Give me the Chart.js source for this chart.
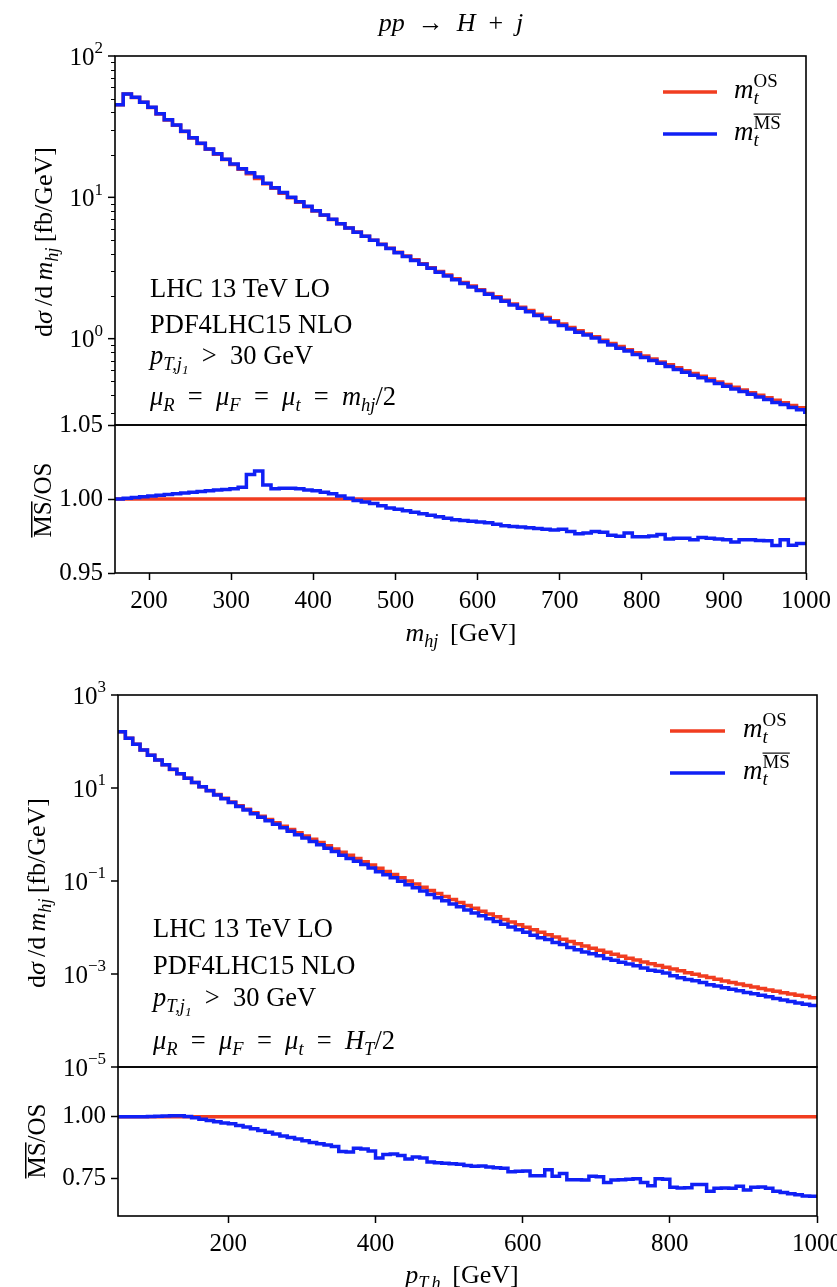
<!DOCTYPE html>
<html lang="en">
<head>
<meta charset="utf-8">
<title>pp → H + j</title>
<script src="https://cdn.jsdelivr.net/npm/chart.js@4.4.1/dist/chart.umd.min.js"></script>
<style>
  html, body { margin: 0; padding: 0; background: #fff; }
  #page { position: relative; width: 837px; height: 1287px; overflow: hidden; background: #fff; }
  #page canvas { position: absolute; left: 0; }
</style>
</head>
<body>
<div id="page">
  <canvas id="mhjMain" width="837" height="445" style="top:0px"></canvas>
  <canvas id="mhjRatio" width="837" height="248" style="top:405px"></canvas>
  <canvas id="ptMain" width="837" height="412" style="top:675px"></canvas>
  <canvas id="ptRatio" width="837" height="240" style="top:1047px"></canvas>
</div>
<script>
// ---- m_hj distribution: 10 GeV bins starting at the kinematic threshold ----
const mhjFirstEdge = 158.5;
const mhjBinWidth = 10;

// dsigma/dm_hj [fb/GeV], on-shell top mass
const mhjOS = [
  45.2, 53.8, 50.9, 47.0, 43.3, 38.9, 35.3, 32.4, 29.2, 26.3,
  24.0, 21.9, 20.2, 18.5, 17.1, 15.8, 14.7, 13.6, 12.5, 11.6,
  10.7, 9.95, 9.23, 8.59, 8.00, 7.46, 6.97, 6.50, 6.07, 5.68,
  5.31, 4.97, 4.66, 4.37, 4.09, 3.84, 3.61, 3.39, 3.18, 2.99,
  2.82, 2.65, 2.50, 2.36, 2.22, 2.09, 1.98, 1.87, 1.76, 1.67,
  1.58, 1.49, 1.41, 1.34, 1.27, 1.20, 1.14, 1.08, 1.03, 0.973,
  0.925, 0.879, 0.836, 0.794, 0.755, 0.719, 0.685, 0.653, 0.622, 0.594,
  0.568, 0.542, 0.518, 0.494, 0.473, 0.453, 0.434, 0.415, 0.398, 0.382,
  0.366, 0.352, 0.337, 0.324, 0.310
];

// dsigma/dm_hj [fb/GeV], MSbar top mass
const mhjMS = [
  45.2, 53.8, 51.0, 47.1, 43.4, 39.0, 35.4, 32.5, 29.3, 26.4,
  24.1, 22.0, 20.3, 18.6, 17.2, 15.9, 14.9, 13.9, 12.6, 11.7,
  10.8, 10.0, 9.29, 8.64, 8.04, 7.49, 6.99, 6.51, 6.07, 5.67,
  5.30, 4.96, 4.64, 4.34, 4.06, 3.81, 3.58, 3.36, 3.15, 2.95,
  2.78, 2.61, 2.46, 2.32, 2.19, 2.06, 1.95, 1.84, 1.73, 1.64,
  1.55, 1.46, 1.38, 1.31, 1.24, 1.17, 1.11, 1.06, 1.01, 0.951,
  0.902, 0.857, 0.817, 0.774, 0.736, 0.701, 0.669, 0.635, 0.606, 0.578,
  0.552, 0.528, 0.504, 0.481, 0.460, 0.440, 0.422, 0.404, 0.387, 0.371,
  0.354, 0.342, 0.326, 0.314, 0.301
];

// MSbar / OS per bin
const mhjRatio = [
  1.000, 1.0005, 1.001, 1.0015, 1.002, 1.0025, 1.003, 1.0035, 1.004, 1.0045,
  1.005, 1.0055, 1.006, 1.0065, 1.007, 1.008, 1.0165, 1.019, 1.0095, 1.007,
  1.0072, 1.0072, 1.007, 1.006, 1.0055, 1.0045, 1.0035, 1.002, 1.0005, 0.999,
  0.998, 0.997, 0.9955, 0.994, 0.993, 0.992, 0.991, 0.990, 0.989, 0.988,
  0.987, 0.986, 0.9855, 0.985, 0.9845, 0.984, 0.983, 0.982, 0.9815, 0.981,
  0.9805, 0.980, 0.9795, 0.979, 0.9795, 0.978, 0.9765, 0.977, 0.978, 0.9775,
  0.9755, 0.9748, 0.977, 0.9745, 0.9745, 0.975, 0.976, 0.973, 0.9735, 0.9735,
  0.9725, 0.974, 0.9735, 0.973, 0.9725, 0.971, 0.9725, 0.9725, 0.972, 0.9718,
  0.9685, 0.9725, 0.9688, 0.970, 0.970
];

// ---- p_T,h distribution: 10 GeV bins from 50 GeV ----
const ptFirstEdge = 50;
const ptBinWidth = 10;

const ptOS = [
  162, 117, 87.1, 65.3, 50.7, 39.8, 31.6, 25.1, 20.2, 16.2,
  13.2, 10.7, 8.81, 7.24, 6.03, 5.01, 4.17, 3.51, 2.95, 2.48,
  2.11, 1.78, 1.51, 1.28, 1.09, 0.929, 0.791, 0.673, 0.573, 0.489,
  0.417, 0.356, 0.303, 0.259, 0.222, 0.189, 0.161, 0.138, 0.117, 0.100,
  0.0857, 0.0733, 0.0628, 0.0538, 0.0462, 0.0398, 0.0344, 0.0297, 0.0258, 0.0224,
  0.0195, 0.0170, 0.0149, 0.0131, 0.0115, 0.0101, 0.00893, 0.00791, 0.00701, 0.00624,
  0.00556, 0.00497, 0.00445, 0.00399, 0.00359, 0.00324, 0.00292, 0.00265, 0.00240, 0.00219,
  0.00200, 0.00182, 0.00167, 0.00153, 0.00140, 0.00128, 0.00117, 0.00107, 0.000986, 0.000908,
  0.000836, 0.000771, 0.000711, 0.000658, 0.000608, 0.000564, 0.000524, 0.000488, 0.000454, 0.000424,
  0.000396, 0.000371, 0.000348, 0.000327, 0.000307
];

const ptMS = [
  162, 117, 87.1, 65.3, 50.8, 39.9, 31.7, 25.2, 20.3, 16.2,
  13.1, 10.6, 8.68, 7.10, 5.88, 4.86, 4.02, 3.36, 2.81, 2.34,
  1.98, 1.66, 1.39, 1.17, 0.992, 0.839, 0.709, 0.600, 0.508, 0.430,
  0.359, 0.305, 0.265, 0.225, 0.191, 0.158, 0.137, 0.117, 0.0987, 0.0830,
  0.0718, 0.0611, 0.0513, 0.0438, 0.0375, 0.0322, 0.0278, 0.0238, 0.0206, 0.0179,
  0.0155, 0.0135, 0.0118, 0.0102, 0.00897, 0.00789, 0.00680, 0.00603, 0.00551, 0.00474,
  0.00429, 0.00371, 0.00332, 0.00297, 0.00273, 0.00246, 0.00215, 0.00197, 0.00179, 0.00164,
  0.00150, 0.00134, 0.00121, 0.00115, 0.00105, 0.000916, 0.000834, 0.000764, 0.000717, 0.000660,
  0.000585, 0.000549, 0.000507, 0.000468, 0.000438, 0.000398, 0.000375, 0.000350, 0.000323, 0.000297,
  0.000275, 0.000256, 0.000239, 0.000223, 0.000209
];

const ptRatio = [
  1.000, 1.000, 1.000, 1.000, 1.001, 1.002, 1.003, 1.004, 1.004, 1.001,
  0.996, 0.990, 0.985, 0.980, 0.975, 0.971, 0.964, 0.958, 0.951, 0.944,
  0.937, 0.930, 0.922, 0.916, 0.910, 0.903, 0.896, 0.891, 0.886, 0.880,
  0.860, 0.858, 0.873, 0.870, 0.862, 0.834, 0.848, 0.850, 0.844, 0.830,
  0.838, 0.834, 0.817, 0.814, 0.812, 0.810, 0.808, 0.803, 0.800, 0.801,
  0.797, 0.794, 0.792, 0.778, 0.780, 0.781, 0.762, 0.762, 0.786, 0.760,
  0.771, 0.746, 0.746, 0.745, 0.760, 0.758, 0.735, 0.745, 0.746, 0.748,
  0.750, 0.735, 0.722, 0.750, 0.748, 0.716, 0.713, 0.714, 0.727, 0.727,
  0.700, 0.712, 0.713, 0.712, 0.720, 0.705, 0.716, 0.717, 0.712, 0.700,
  0.695, 0.690, 0.686, 0.681, 0.680
];

// OS reference line in the ratio panels
const osRatio = 1;

// ---- axis ranges and ticks ----
const mhjRange = [158.5, 1000];
const ptRange = [50, 1000];
const mhjXsecRange = [0.245, 100];
const ptXsecRange = [1e-5, 1e3];
const mhjRatioRange = [0.95, 1.05];
const ptRatioRange = [0.6, 1.2];

const mhjXTicks = [200, 300, 400, 500, 600, 700, 800, 900, 1000];
const ptXTicks = [200, 400, 600, 800, 1000];
const mhjLogMajor = [1, 10, 100];
const mhjLogMinor = [0.3, 0.4, 0.5, 0.6, 0.7, 0.8, 0.9, 2, 3, 4, 5, 6, 7, 8, 9, 20, 30, 40, 50, 60, 70, 80, 90];
const ptLogMajor = [1e-5, 1e-3, 1e-1, 1e1, 1e3];
const mhjRatioTicks = [0.95, 1.00, 1.05];
const ptRatioTicks = [0.75, 1.00];

const RED = '#f13d20';
const BLUE = '#1020f5';
const SERIF = '"Liberation Serif", "DejaVu Serif", serif';
const LINE_W = 3.5;

// ---- small rich-text helpers (italic math, sub/superscripts, overline) ----
const rm = (t, o) => Object.assign({ t }, o);
const it = (t, o) => Object.assign({ t, i: 1 }, o);
const sb = (t, o) => Object.assign({ t, i: 1, s: 0.7, dy: 0.22 }, o);
const sp = (t, o) => Object.assign({ t, s: 0.7, dy: -0.42 }, o);
const EN = '\u2002';   // en space, used around relations in math lines
const TH = '\u2009';   // thin space

function runFont(r, base) {
  return (r.i ? 'italic ' : '') + (base * (r.s || 1)).toFixed(1) + 'px ' + SERIF;
}

function runsWidth(ctx, runs, base) {
  let w = 0, kept = 0;
  for (const r of runs) {
    ctx.font = runFont(r, base);
    const rw = ctx.measureText(r.t).width;
    if (r.keep) { kept = rw; continue; }
    w += Math.max(rw, kept);
    kept = 0;
  }
  return w;
}

function drawRuns(ctx, runs, x0, y0, base, align) {
  const total = runsWidth(ctx, runs, base);
  let x = align === 'center' ? x0 - total / 2 : align === 'right' ? x0 - total : x0;
  let kept = 0;
  ctx.textAlign = 'left';
  ctx.textBaseline = 'alphabetic';
  for (const r of runs) {
    ctx.font = runFont(r, base);
    const rw = ctx.measureText(r.t).width;
    const y = y0 + (r.dy || 0) * base;
    ctx.fillText(r.t, x, y);
    if (r.ol) {
      const size = base * (r.s || 1);
      ctx.fillRect(x, y - size * 0.8, rw, Math.max(1, size * 0.06));
    }
    if (r.keep) { kept = rw; continue; }
    x += Math.max(rw, kept);
    kept = 0;
  }
}

function drawText(ctx, t) {
  ctx.save();
  ctx.fillStyle = '#000';
  if (t.rot) {
    ctx.translate(t.x, t.y);
    ctx.rotate(-Math.PI / 2);
    drawRuns(ctx, t.runs, 0, 0, t.size, 'center');
  } else {
    drawRuns(ctx, t.runs, t.x, t.y, t.size, t.align || 'left');
  }
  ctx.restore();
}

function expLabel(v) {
  const e = Math.round(Math.log10(v));
  return [rm('10'), sp(e < 0 ? '\u2212' + (-e) : String(e), { s: 0.68, dy: -0.45 })];
}

// frame, log ticks, legend and free text, all in page coordinates
const decor = {
  id: 'decor',
  afterDatasetsDraw(chart, args, o) {
    const ctx = chart.ctx;
    const a = chart.chartArea;
    ctx.save();
    ctx.strokeStyle = '#000';
    ctx.fillStyle = '#000';

    if (o.logMajor) {
      const ys = chart.scales.y;
      ctx.lineWidth = 1;
      for (const v of o.logMinor || []) {
        const y = Math.round(ys.getPixelForValue(v)) + 0.5;
        ctx.beginPath(); ctx.moveTo(a.left - 4, y); ctx.lineTo(a.left, y); ctx.stroke();
      }
      ctx.lineWidth = 1.5;
      for (const v of o.logMajor) {
        const y = ys.getPixelForValue(v);
        ctx.beginPath(); ctx.moveTo(a.left - 7, y); ctx.lineTo(a.left, y); ctx.stroke();
        drawRuns(ctx, expLabel(v), a.left - 12, y + 8.5, 25, 'right');
      }
    }

    ctx.lineWidth = 1.6;
    ctx.strokeRect(a.left, a.top, a.right - a.left, a.bottom - a.top);

    ctx.translate(0, -o.pageTop);
    if (o.legend) {
      const L = o.legend;
      for (const row of L.rows) {
        ctx.strokeStyle = row.color;
        ctx.lineWidth = LINE_W;
        ctx.beginPath(); ctx.moveTo(L.x1, row.y); ctx.lineTo(L.x2, row.y); ctx.stroke();
        drawText(ctx, { runs: row.runs, x: L.tx, y: row.y + 6, size: 27 });
      }
    }
    for (const t of o.texts || []) drawText(ctx, t);
    ctx.restore();
  }
};

function steps(first, width, values) {
  const pts = values.map((v, i) => ({ x: first + i * width, y: v }));
  pts.push({ x: first + values.length * width, y: values[values.length - 1] });
  return pts;
}

function flat(range, value) {
  return [{ x: range[0], y: value }, { x: range[1], y: value }];
}

// order 0 is drawn on top
function line(label, color, data, order) {
  return {
    label, data, order, borderColor: color, backgroundColor: color,
    borderWidth: LINE_W, pointRadius: 0, stepped: 'before', fill: false, clip: 0
  };
}

const tickFont = { family: SERIF, size: 25 };

function mainChart(id, pageTop, pad, xRange, yRange, datasets, decorOpts) {
  return new Chart(document.getElementById(id), {
    type: 'line',
    data: { datasets },
    options: {
      responsive: false,
      animation: false,
      events: [],
      layout: { padding: pad },
      scales: {
        x: { type: 'linear', display: false, min: xRange[0], max: xRange[1] },
        y: { type: 'logarithmic', display: false, min: yRange[0], max: yRange[1] }
      },
      plugins: {
        legend: { display: false },
        tooltip: { enabled: false },
        decor: Object.assign({ pageTop }, decorOpts)
      }
    },
    plugins: [decor]
  });
}

function ratioChart(id, pageTop, opts) {
  const axisLook = {
    grid: { display: true, drawOnChartArea: false, drawTicks: true, tickLength: 7, tickWidth: 1.5, tickColor: '#000' },
    border: { display: false }
  };
  return new Chart(document.getElementById(id), {
    type: 'line',
    data: { datasets: opts.datasets },
    options: {
      responsive: false,
      animation: false,
      events: [],
      layout: { padding: { left: 0, right: opts.right, top: 20, bottom: 0 } },
      scales: {
        x: Object.assign({
          type: 'linear', min: opts.xRange[0], max: opts.xRange[1],
          afterBuildTicks: s => { s.ticks = opts.xTicks.map(v => ({ value: v })); },
          afterFit: s => { s.height = opts.xHeight; s.paddingLeft = 0; s.paddingRight = 0; },
          ticks: { font: tickFont, color: '#000', padding: 6, autoSkip: false, maxRotation: 0, minRotation: 0,
                   callback: v => String(v) }
        }, axisLook),
        y: Object.assign({
          type: 'linear', min: opts.yRange[0], max: opts.yRange[1],
          afterBuildTicks: s => { s.ticks = opts.yTicks.map(v => ({ value: v })); },
          afterFit: s => { s.width = opts.left; s.paddingTop = 0; s.paddingBottom = 0; },
          ticks: { font: tickFont, color: '#000', padding: 5, callback: v => Number(v).toFixed(2) }
        }, axisLook)
      },
      plugins: {
        legend: { display: false },
        tooltip: { enabled: false },
        decor: { pageTop, texts: opts.texts }
      }
    },
    plugins: [decor]
  });
}

const yTitle = [rm('d'), it('σ'), rm(TH + '/d' + TH), it('m'), sb('hj'), rm(TH + '[fb/GeV]')];
const ratioTitle = [rm('MS', { ol: 1 }), rm('/OS')];
const legendRuns = {
  os: [it('m'), sb('t', { keep: 1 }), sp('OS')],
  ms: [it('m'), sb('t', { keep: 1 }), sp('MS', { ol: 1 })]
};
const ptCut = [it('p'), sb('T,j'), rm('1', { i: 1, s: 0.5, dy: 0.36 }), rm(EN + '>' + EN + '30 GeV')];
const mu = sub => [it('μ'), sb(sub)];
const eq = rm(EN + '=' + EN);
const ANNOT = 26.5;

// ---- upper figure: m_hj ----
mainChart('mhjMain', 0, { left: 115, right: 31, top: 56, bottom: 20 }, mhjRange, mhjXsecRange, [
  line('m_t^OS', RED, steps(mhjFirstEdge, mhjBinWidth, mhjOS), 1),
  line('m_t^MS', BLUE, steps(mhjFirstEdge, mhjBinWidth, mhjMS), 0)
], {
  logMajor: mhjLogMajor,
  logMinor: mhjLogMinor,
  legend: { x1: 663, x2: 717, tx: 734, rows: [
    { color: RED, y: 92, runs: legendRuns.os },
    { color: BLUE, y: 134, runs: legendRuns.ms }
  ] },
  texts: [
    { runs: [it('pp'), rm(EN + '→' + EN), it('H'), rm(EN + '+' + EN), it('j')], x: 451, y: 31, size: 26, align: 'center' },
    { runs: yTitle, x: 52, y: 242, size: 26, rot: true },
    { runs: [rm('LHC 13 TeV LO')], x: 150, y: 297, size: ANNOT },
    { runs: [rm('PDF4LHC15 NLO')], x: 150, y: 333, size: ANNOT },
    { runs: ptCut, x: 150, y: 364, size: ANNOT },
    { runs: [...mu('R'), eq, ...mu('F'), eq, ...mu('t'), eq, it('m'), sb('hj'), rm('/2')], x: 150, y: 405, size: ANNOT }
  ]
});

ratioChart('mhjRatio', 405, {
  right: 31, left: 115, xHeight: 80,
  xRange: mhjRange, yRange: mhjRatioRange, xTicks: mhjXTicks, yTicks: mhjRatioTicks,
  datasets: [
    line('OS', RED, flat(mhjRange, osRatio), 1),
    line('MS/OS', BLUE, steps(mhjFirstEdge, mhjBinWidth, mhjRatio), 0)
  ],
  texts: [
    { runs: ratioTitle, x: 51, y: 500, size: 25, rot: true },
    { runs: [it('m'), sb('hj'), rm(TH + ' [GeV]')], x: 461, y: 641, size: 26, align: 'center' }
  ]
});

// ---- lower figure: p_T,h ----
mainChart('ptMain', 675, { left: 118, right: 20, top: 20, bottom: 20 }, ptRange, ptXsecRange, [
  line('m_t^OS', RED, steps(ptFirstEdge, ptBinWidth, ptOS), 1),
  line('m_t^MS', BLUE, steps(ptFirstEdge, ptBinWidth, ptMS), 0)
], {
  logMajor: ptLogMajor,
  legend: { x1: 670, x2: 725, tx: 743, rows: [
    { color: RED, y: 731, runs: legendRuns.os },
    { color: BLUE, y: 773, runs: legendRuns.ms }
  ] },
  texts: [
    { runs: yTitle, x: 45, y: 893, size: 26, rot: true },
    { runs: [rm('LHC 13 TeV LO')], x: 153, y: 937, size: ANNOT },
    { runs: [rm('PDF4LHC15 NLO')], x: 153, y: 974, size: ANNOT },
    { runs: ptCut, x: 153, y: 1006, size: ANNOT },
    { runs: [...mu('R'), eq, ...mu('F'), eq, ...mu('t'), eq, it('H'), sb('T'), rm('/2')], x: 153, y: 1049, size: ANNOT }
  ]
});

ratioChart('ptRatio', 1047, {
  right: 20, left: 118, xHeight: 71,
  xRange: ptRange, yRange: ptRatioRange, xTicks: ptXTicks, yTicks: ptRatioTicks,
  datasets: [
    line('OS', RED, flat(ptRange, osRatio), 1),
    line('MS/OS', BLUE, steps(ptFirstEdge, ptBinWidth, ptRatio), 0)
  ],
  texts: [
    { runs: ratioTitle, x: 45, y: 1141, size: 25, rot: true },
    { runs: [it('p'), sb('T,h'), rm(TH + ' [GeV]')], x: 462, y: 1283, size: 26, align: 'center' }
  ]
});
</script>
</body>
</html>
